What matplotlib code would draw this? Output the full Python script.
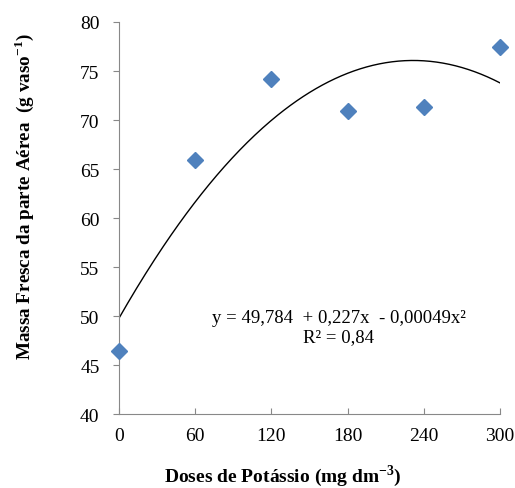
import numpy as np
import matplotlib
matplotlib.use("Agg")
import matplotlib.pyplot as plt

# observed points
doses = [0, 60, 120, 180, 240, 300]
massa = [46.4, 65.9, 74.2, 70.9, 71.3, 77.4]

# fitted quadratic shown on the chart: y = b0 + b1 x + b2 x^2
b0, b1, b2 = 49.784, 0.227, -0.00049

x_ticks = [0, 60, 120, 180, 240, 300]
y_ticks = [40, 45, 50, 55, 60, 65, 70, 75, 80]

plt.rcParams["font.family"] = ["Liberation Serif", "DejaVu Serif"]

fig = plt.figure(figsize=(5.15, 4.89), dpi=100)
ax = fig.add_axes([0.231, 0.151, 0.740, 0.802])

xs = np.linspace(0, 300, 301)
ax.plot(xs, b0 + b1 * xs + b2 * xs**2, color="black", lw=1.0)
ax.plot(doses, massa, linestyle="none", marker="D", markersize=8.5,
        color="#4F81BD", clip_on=False, zorder=3)

ax.set_xlim(0, 300)
ax.set_ylim(40, 80)
ax.set_xticks(x_ticks)
ax.set_yticks(y_ticks)
ax.tick_params(axis="both", labelsize=14, colors="#888888", labelcolor="black")
ax.tick_params(axis="x", direction="in", length=4, pad=9)
ax.tick_params(axis="y", direction="out", length=4, pad=10)
for s in ("top", "right"):
    ax.spines[s].set_visible(False)
for s in ("left", "bottom"):
    ax.spines[s].set_color("#888888")

fig.text(283 / 515, 1 - 476 / 489, "Doses de Potássio (mg dm$^{\\mathregular{-3}}$)",
         fontsize=14, fontweight="bold", ha="center", va="center")
fig.text(24 / 515, 1 - 197 / 489, "Massa Fresca da parte Aérea  (g vaso$^{\\mathregular{-1}}$)",
         fontsize=13.8, fontweight="bold", ha="center", va="center", rotation=90)

ax.text(173, 49.9, "y = 49,784  + 0,227x  - 0,00049x²",
        ha="center", va="center", fontsize=13.5)
ax.text(173, 47.9, "R² = 0,84", ha="center", va="center", fontsize=13.5)

fig.savefig("out.png", dpi=100)
